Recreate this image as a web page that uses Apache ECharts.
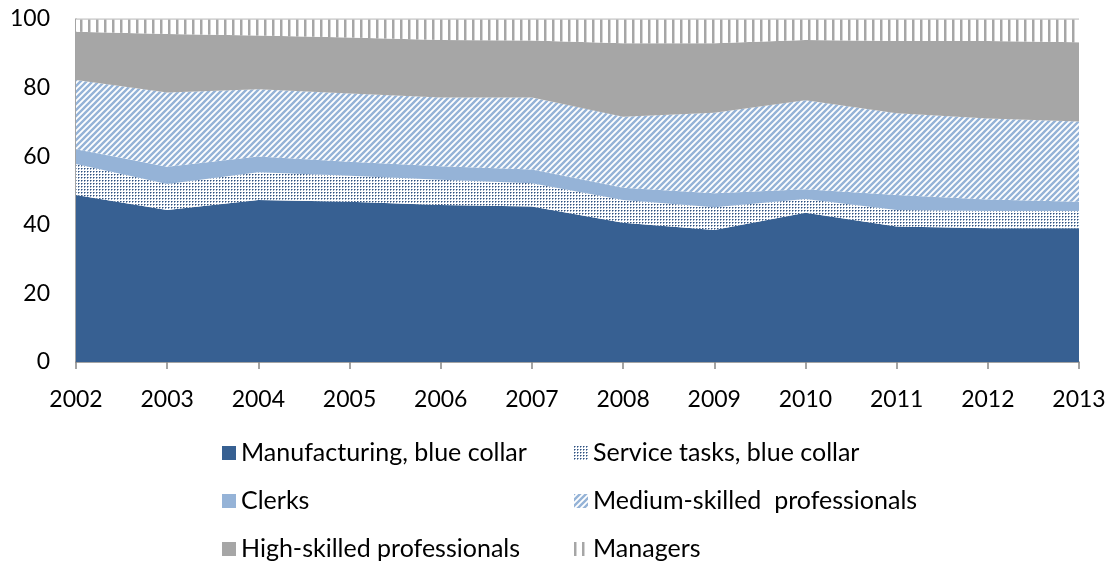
<!DOCTYPE html>
<html>
<head>
<meta charset="utf-8">
<script src="https://cdn.jsdelivr.net/npm/echarts@6/dist/echarts.min.js"></script>
<style>
  html, body { margin: 0; padding: 0; background: #ffffff; }
  #chart { width: 1113px; height: 568px; }
</style>
</head>
<body>
<div id="chart"></div>
<script>
// Employment shares by occupation group (%), stacked to 100
const years = ['2002', '2003', '2004', '2005', '2006', '2007', '2008', '2009', '2010', '2011', '2012', '2013'];
const manufacturing = [48.7, 44.3, 47.2, 46.7, 45.8, 45.3, 40.6, 38.5, 43.5, 39.5, 39.0, 39.0];
const serviceTasks  = [9.0, 7.6, 8.1, 7.6, 7.3, 6.8, 6.6, 6.6, 4.0, 4.8, 5.0, 5.0];
const clerks        = [4.3, 5.0, 4.6, 4.1, 4.0, 4.0, 3.6, 4.1, 2.9, 4.4, 3.4, 2.7];
const mediumSkilled = [20.2, 21.7, 19.6, 19.9, 20.0, 21.0, 20.7, 23.5, 25.9, 23.8, 23.6, 23.4];
const highSkilled   = [14.1, 17.0, 15.7, 16.3, 16.8, 16.6, 21.4, 20.2, 17.6, 21.1, 22.6, 23.1];
const managers      = [3.7, 4.4, 4.8, 5.4, 6.1, 6.3, 7.1, 7.1, 6.1, 6.4, 6.4, 6.8];
const yTicks = [0, 20, 40, 60, 80, 100];

const names = [
  'Manufacturing, blue collar',
  'Service tasks, blue collar',
  'Clerks',
  'Medium-skilled  professionals',
  'High-skilled professionals',
  'Managers'
];

// --- fill patterns -------------------------------------------------------
function tile(w, h, draw) {
  const c = document.createElement('canvas');
  c.width = w; c.height = h;
  const ctx = c.getContext('2d');
  ctx.fillStyle = '#ffffff';
  ctx.fillRect(0, 0, w, h);
  draw(ctx);
  return { image: c, repeat: 'repeat' };
}

// small navy dots on white
const dotFill = tile(3, 3, ctx => {
  ctx.fillStyle = '#2e4f7d'; ctx.fillRect(0, 0, 1, 1);
  ctx.fillStyle = '#8ea3bf'; ctx.fillRect(1, 0, 1, 1); ctx.fillRect(0, 1, 1, 1);
});

// light-blue "/" hatching
const hatchFill = tile(6, 6, ctx => {
  ctx.strokeStyle = '#95b3d7';
  ctx.lineWidth = 2.4;
  ctx.beginPath();
  ctx.moveTo(-1, 7); ctx.lineTo(7, -1);
  ctx.moveTo(-4, 4); ctx.lineTo(4, -4);
  ctx.moveTo(2, 10); ctx.lineTo(10, 2);
  ctx.stroke();
});

// grey vertical lines
const vlineFill = tile(8, 8, ctx => {
  ctx.fillStyle = '#a6a6a6'; ctx.fillRect(0, 0, 2, 8);
  ctx.fillStyle = '#d4d4d4'; ctx.fillRect(2, 0, 1, 8);
});

const fills = ['#376092', dotFill, '#95b3d7', hatchFill, '#a6a6a6', vlineFill];
const values = [manufacturing, serviceTasks, clerks, mediumSkilled, highSkilled, managers];

const FONT = 'Lato';

const series = names.map((name, i) => ({
  name: name,
  type: 'line',
  stack: 'total',
  data: values[i],
  symbol: 'none',
  color: fills[i],
  itemStyle: { color: fills[i] },
  lineStyle: i === 5 ? { width: 1.5, color: '#c8c8c8' } : { width: 0 },
  areaStyle: { color: fills[i], opacity: 1 },
  emphasis: { disabled: true },
  silent: true
}));

// legend: two columns, three rows
const legendCols = [222, 574];
const legendRows = [440, 488, 536];
const legends = names.map((name, i) => ({
  data: [name],
  left: legendCols[i % 2],
  top: legendRows[Math.floor(i / 2)],
  icon: 'rect',
  itemWidth: 14,
  itemHeight: 14,
  itemGap: 0,
  padding: 0,
  selectedMode: false,
  textStyle: { fontFamily: FONT, fontSize: 25, color: '#000000', lineHeight: 26 }
}));

const chart = echarts.init(document.getElementById('chart'), null, { renderer: 'canvas' });
chart.setOption({
  animation: false,
  backgroundColor: '#ffffff',
  grid: { left: 76, right: 34, top: 19, bottom: 206, containLabel: false },
  legend: legends,
  xAxis: {
    type: 'category',
    data: years,
    boundaryGap: false,
    axisLine: { lineStyle: { color: '#868686', width: 1.5 } },
    axisTick: { show: true, length: 7, lineStyle: { color: '#868686', width: 1.5 } },
    axisLabel: { fontFamily: FONT, fontSize: 23, color: '#000000', margin: 26 },
    splitLine: { show: false }
  },
  yAxis: {
    type: 'value',
    min: yTicks[0],
    max: yTicks[yTicks.length - 1],
    interval: 20,
    axisLine: { show: true, lineStyle: { color: '#868686', width: 1.5 } },
    axisTick: { show: false },
    axisLabel: { fontFamily: FONT, fontSize: 23, color: '#000000', margin: 26 },
    splitLine: { show: false }
  },
  series: series
});
</script>
</body>
</html>
